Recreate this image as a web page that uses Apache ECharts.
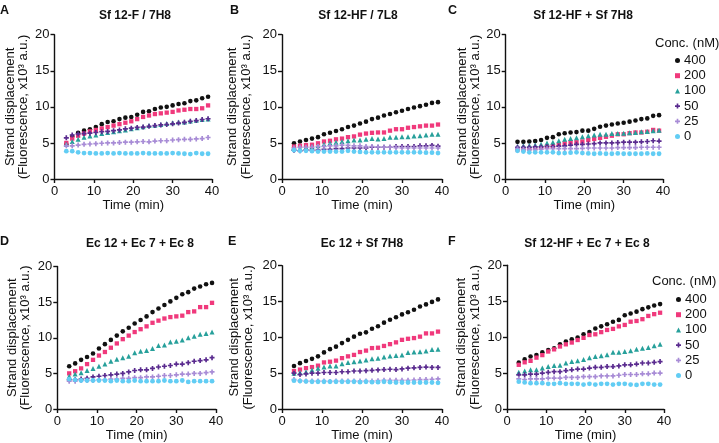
<!DOCTYPE html>
<html><head><meta charset="utf-8">
<script src="https://cdn.jsdelivr.net/npm/echarts@6/dist/echarts.min.js"></script>
<style>html,body{margin:0;padding:0;background:#fff}#c{width:719px;height:443px}</style>
</head><body><div id="c"></div>
<script>
const time = [3,4.5,6,7.5,9,10.5,12,13.5,15,16.5,18,19.5,21,22.5,24,25.5,27,28.5,30,31.5,33,34.5,36,37.5,39];
const concNames = ['400','200','100','50','25','0'];
const panelTitles = ['Sf 12-F / 7H8','Sf 12-HF / 7L8','Sf 12-HF + Sf 7H8','Ec 12 + Ec 7 + Ec 8','Ec 12 + Sf 7H8','Sf 12-HF + Ec 7 + Ec 8'];
const panelLetters = ['A','B','C','D','E','F'];
const xTicks = [0,10,20,30,40];
const yTicks = [0,5,10,15,20];

// Panel A
const a400 = [4.8,5.9,6.4,6.7,6.9,7.2,7.6,7.9,8.0,8.3,8.5,8.6,8.9,9.3,9.4,9.7,9.9,10.0,10.2,10.4,10.5,10.8,10.9,11.2,11.4];
const a200 = [5.0,5.6,6.0,6.3,6.6,6.8,7.0,7.2,7.4,7.6,7.8,8.0,8.3,8.6,8.8,9.0,9.1,9.2,9.3,9.5,9.6,9.7,9.7,9.8,10.2];
const a100 = [4.8,5.2,5.5,5.8,5.95,6.1,6.3,6.45,6.55,6.7,6.8,6.95,7.1,7.25,7.4,7.45,7.55,7.7,7.8,7.9,7.9,8.05,8.15,8.25,8.3];
const a50  = [5.7,6.1,6.25,6.3,6.35,6.45,6.55,6.6,6.7,6.8,6.95,7.05,7.15,7.2,7.3,7.4,7.5,7.55,7.65,7.75,7.85,8.0,8.1,8.25,8.35];
const a25  = [4.6,4.6,4.7,4.8,4.85,4.9,4.95,5.0,5.0,5.05,5.1,5.1,5.15,5.2,5.15,5.25,5.3,5.3,5.4,5.45,5.5,5.5,5.55,5.6,5.75];
const a0   = [3.85,3.85,3.7,3.6,3.6,3.55,3.55,3.6,3.55,3.6,3.55,3.55,3.55,3.6,3.55,3.55,3.55,3.55,3.6,3.55,3.5,3.45,3.6,3.5,3.5];
// Panel B
const b400 = [4.95,5.2,5.4,5.6,5.8,6.2,6.4,6.65,6.9,7.2,7.4,7.7,7.95,8.3,8.5,8.8,9.0,9.25,9.45,9.7,9.9,10.1,10.3,10.55,10.65];
const b200 = [4.5,4.6,4.7,4.75,4.95,5.2,5.3,5.5,5.6,5.8,5.9,6.15,6.3,6.4,6.45,6.45,6.7,6.9,6.9,7.1,7.2,7.3,7.4,7.4,7.55];
const b100 = [4.3,4.3,4.4,4.5,4.6,4.8,5.0,5.1,5.2,5.3,5.4,5.4,5.5,5.6,5.55,5.6,5.8,5.8,5.85,5.85,5.95,6.0,6.1,6.2,6.2];
const b50  = [4.0,3.9,4.0,4.0,4.0,4.1,4.1,4.2,4.2,4.3,4.3,4.3,4.3,4.4,4.4,4.4,4.4,4.5,4.5,4.5,4.5,4.6,4.6,4.65,4.55];
const b25  = [4.3,4.4,4.4,4.4,4.5,4.5,4.6,4.6,4.7,4.65,4.6,4.6,4.5,4.5,4.45,4.4,4.4,4.35,4.3,4.3,4.3,4.3,4.3,4.3,4.3];
const b0   = [4.0,3.9,3.9,3.85,3.8,3.8,3.8,3.8,3.8,3.9,3.8,3.75,3.7,3.7,3.7,3.7,3.7,3.7,3.7,3.7,3.7,3.7,3.65,3.65,3.6];
// Panel C
const c400 = [5.15,5.15,5.2,5.25,5.4,5.7,5.8,6.2,6.35,6.45,6.5,6.7,6.7,6.95,7.25,7.4,7.55,7.7,7.8,7.95,8.1,8.3,8.4,8.75,8.85];
const c200 = [4.1,4.1,4.2,4.25,4.35,4.5,4.6,4.8,4.95,5.1,5.1,5.2,5.4,5.55,5.7,5.85,6.0,6.2,6.2,6.35,6.45,6.45,6.55,6.8,6.7];
const c100 = [4.5,4.6,4.65,4.7,4.8,5.0,5.1,5.3,5.5,5.6,5.7,5.85,6.0,6.1,6.2,6.2,6.3,6.3,6.35,6.4,6.45,6.55,6.6,6.7,6.75];
const c50  = [4.4,4.4,4.4,4.45,4.45,4.5,4.5,4.55,4.6,4.7,4.8,4.8,4.85,4.9,5.0,5.0,5.0,5.05,5.1,5.1,5.1,5.15,5.2,5.3,5.25];
const c25  = [4.2,4.1,4.1,4.1,4.15,4.2,4.2,4.2,4.2,4.2,4.2,4.25,4.3,4.3,4.3,4.3,4.3,4.35,4.35,4.35,4.35,4.4,4.4,4.4,4.4];
const c0   = [3.9,3.8,3.7,3.7,3.7,3.7,3.7,3.6,3.6,3.65,3.7,3.6,3.55,3.5,3.55,3.5,3.5,3.55,3.5,3.5,3.5,3.5,3.55,3.5,3.5];
// Panel D
const d400 = [6.0,6.4,6.9,7.3,7.8,8.5,9.1,9.7,10.3,10.9,11.4,12.0,12.5,13.0,13.6,14.1,14.6,15.1,15.6,16.1,16.4,16.9,17.2,17.5,17.7];
const d200 = [5.0,5.3,5.7,6.3,6.9,7.5,8.0,8.6,9.2,9.8,10.3,10.8,11.2,11.6,12.1,12.4,12.7,12.9,13.0,13.1,13.6,13.7,14.3,14.3,14.9];
const d100 = [4.6,4.9,5.1,5.4,5.7,6.0,6.3,6.7,7.0,7.2,7.4,7.9,8.1,8.2,8.5,8.9,9.0,9.4,9.5,9.7,10.0,10.2,10.5,10.6,10.8];
const d50  = [4.1,4.1,4.2,4.3,4.5,4.6,4.7,4.8,4.9,5.0,5.2,5.4,5.5,5.5,5.7,5.9,6.0,6.1,6.3,6.3,6.5,6.7,6.8,6.9,7.2];
const d25  = [3.9,3.9,4.0,4.0,4.0,4.1,4.1,4.2,4.2,4.3,4.3,4.4,4.4,4.5,4.5,4.6,4.7,4.7,4.8,4.9,4.9,5.0,5.0,5.1,5.2];
const d0   = [4.2,4.1,4.0,4.0,4.0,4.0,4.0,3.9,4.0,3.9,3.9,4.0,3.9,3.9,3.9,3.9,4.0,3.9,3.9,4.0,3.8,3.9,3.9,3.9,3.9];
// Panel E
const e400 = [6.0,6.4,6.7,7.0,7.35,7.9,8.35,8.7,9.2,9.65,10.1,10.5,10.7,11.2,11.55,12.05,12.45,12.8,13.2,13.5,13.85,14.3,14.6,14.95,15.3];
const e200 = [5.3,5.5,5.7,5.85,6.05,6.5,6.6,6.75,7.1,7.35,7.55,7.95,8.15,8.5,8.55,8.8,9.05,9.3,9.65,9.8,9.9,10.1,10.55,10.55,10.8];
const e100 = [5.0,5.1,5.2,5.45,5.7,5.85,6.0,6.0,6.3,6.5,6.6,6.7,6.85,7.0,7.1,7.25,7.4,7.45,7.55,7.9,7.95,8.0,8.1,8.3,8.35];
const e50  = [5.0,4.8,4.9,5.0,5.0,5.1,5.1,5.1,5.2,5.2,5.3,5.3,5.35,5.4,5.45,5.5,5.55,5.5,5.6,5.7,5.75,5.8,5.85,5.8,5.8];
const e25  = [4.1,3.95,3.9,3.9,3.9,3.9,3.85,3.9,3.9,3.9,3.9,3.9,3.9,3.9,3.95,4.0,4.0,4.0,4.0,4.0,4.05,4.1,4.1,4.15,4.2];
const e0   = [3.95,3.9,3.85,3.8,3.8,3.8,3.8,3.8,3.8,3.8,3.8,3.75,3.8,3.75,3.75,3.8,3.75,3.7,3.7,3.7,3.7,3.7,3.7,3.7,3.65];
// Panel F
const f400 = [6.45,6.9,7.3,7.5,7.9,8.2,8.45,9.0,9.4,9.7,9.95,10.4,10.7,11.2,11.5,11.8,12.15,12.4,13.05,13.3,13.55,13.9,14.15,14.4,14.6];
const f200 = [6.15,6.5,6.7,7.15,7.5,8.0,8.3,8.7,9.0,9.25,9.6,9.9,10.3,10.4,10.7,11.0,11.15,11.5,11.7,12.15,12.25,12.5,12.95,13.2,13.4];
const f100 = [5.1,5.3,5.45,5.45,5.7,5.9,6.05,6.1,6.4,6.6,6.7,6.9,7.15,7.3,7.4,7.55,7.9,7.9,8.0,8.1,8.3,8.45,8.55,8.8,9.0];
const f50  = [4.75,4.75,4.85,4.85,5.0,5.1,5.2,5.2,5.35,5.45,5.55,5.55,5.7,5.8,5.8,5.9,5.9,6.0,6.15,6.15,6.25,6.4,6.4,6.5,6.6];
const f25  = [4.2,4.1,4.2,4.2,4.2,4.3,4.3,4.3,4.4,4.4,4.4,4.5,4.5,4.5,4.6,4.6,4.6,4.7,4.8,4.8,4.8,4.9,4.9,5.0,5.0];
const f0   = [3.8,3.7,3.6,3.6,3.6,3.5,3.5,3.6,3.5,3.5,3.5,3.4,3.5,3.4,3.5,3.5,3.4,3.5,3.5,3.4,3.35,3.5,3.5,3.4,3.4];

const panels = [
  [a400,a200,a100,a50,a25,a0],
  [b400,b200,b100,b50,b25,b0],
  [c400,c200,c100,c50,c25,c0],
  [d400,d200,d100,d50,d25,d0],
  [e400,e200,e100,e50,e25,e0],
  [f400,f200,f100,f50,f25,f0]
];

// ---- styling ----
const FONT = '"Liberation Sans", Arial, Helvetica, sans-serif';
const colors = ['#111111','#f0397c','#27a09b','#5a2b8f','#a88cd6','#62cdf4'];
const plusPath = 'path://M3,0H6V3H9V6H6V9H3V6H0V3H3Z';
const symbols = ['circle','rect','triangle',plusPath,plusPath,'circle'];
const symSizes = [4.6,4.3,5,5,5,4.8];
const grids = [
  {left:54.5, top:34.7, width:157.5, height:144.3},
  {left:282,  top:34.7, width:160,   height:144.3},
  {left:505.7,top:34.7, width:157.3, height:144.3},
  {left:57.3, top:266.5,width:158.7, height:143.5},
  {left:282,  top:265.7,width:160,   height:143.6},
  {left:507,  top:265.3,width:157,   height:144}
];
const yNameGaps = [24,29,22,25,27,25];
const titlePos = [[135,15.5],[358,15.5],[583,15.5],[140,244],[362,244],[587,244]];
const letterPos = [[0,4],[230,4],[448,4],[0,235],[228,235],[448,235]];

const xAxes = [], yAxes = [], series = [], graphics = [];
grids.forEach((g,p)=>{
  xAxes.push({
    type:'value', gridIndex:p, min:xTicks[0], max:xTicks[xTicks.length-1], interval:10,
    name:'Time (min)', nameLocation:'middle', nameGap:20,
    nameTextStyle:{fontFamily:FONT, fontSize:13, color:'#111'},
    axisLine:{show:true, onZero:false, lineStyle:{color:'#111', width:1.4}},
    axisTick:{show:true, length:4, lineStyle:{color:'#111', width:1.4}},
    axisLabel:{fontFamily:FONT, fontSize:13, color:'#111', margin:6},
    splitLine:{show:false}
  });
  yAxes.push({
    type:'value', gridIndex:p, min:yTicks[0], max:yTicks[yTicks.length-1], interval:5,
    name:'Strand displacement\n(Fluorescence, x10\u00B3 a.u.)', nameLocation:'middle', nameGap:yNameGaps[p], nameRotate:90,
    nameTextStyle:{fontFamily:FONT, fontSize:13, color:'#111', lineHeight:13.5},
    axisLine:{show:true, onZero:false, lineStyle:{color:'#111', width:1.4}},
    axisTick:{show:true, length:4, lineStyle:{color:'#111', width:1.4}},
    axisLabel:{fontFamily:FONT, fontSize:13, color:'#111', margin:5},
    splitLine:{show:false}
  });
  panels[p].forEach((vals,k)=>{
    series.push({
      type:'scatter', name:concNames[k], xAxisIndex:p, yAxisIndex:p,
      symbol:symbols[k], symbolSize:symSizes[k],
      itemStyle:{color:colors[k], opacity:1},
      data: time.map((t,i)=>[t, vals[i]]),
      silent:true, animation:false
    });
  });
  graphics.push({type:'text', x:titlePos[p][0], y:titlePos[p][1],
    style:{text:panelTitles[p], font:'bold 12px '+FONT, fill:'#111', textAlign:'center', textVerticalAlign:'middle'}});
  graphics.push({type:'text', x:letterPos[p][0], y:letterPos[p][1],
    style:{text:panelLetters[p], font:'bold 12.5px '+FONT, fill:'#111', textAlign:'left', textVerticalAlign:'top'}});
});
graphics.push({type:'text', x:655, y:43, style:{text:'Conc. (nM)', font:'13px '+FONT, fill:'#111', textAlign:'left', textVerticalAlign:'middle'}});
graphics.push({type:'text', x:652, y:281, style:{text:'Conc. (nM)', font:'13px '+FONT, fill:'#111', textAlign:'left', textVerticalAlign:'middle'}});

const legendBase = {
  orient:'vertical', data:concNames, itemWidth:5, itemHeight:5, itemGap:2.2,
  textStyle:{fontFamily:FONT, fontSize:13, color:'#111', padding:[0,0,0,-1]},
  selectedMode:false, padding:0
};
const option = {
  animation:false,
  backgroundColor:'#fff',
  grid: grids.map(g=>Object.assign({containLabel:false}, g)),
  xAxis: xAxes, yAxis: yAxes, series: series,
  legend: [
    Object.assign({left:675, top:54}, legendBase),
    Object.assign({left:676, top:293}, legendBase)
  ],
  graphic: graphics
};
const chart = echarts.init(document.getElementById('c'), null, {renderer:'canvas'});
chart.setOption(option);
</script></body></html>
